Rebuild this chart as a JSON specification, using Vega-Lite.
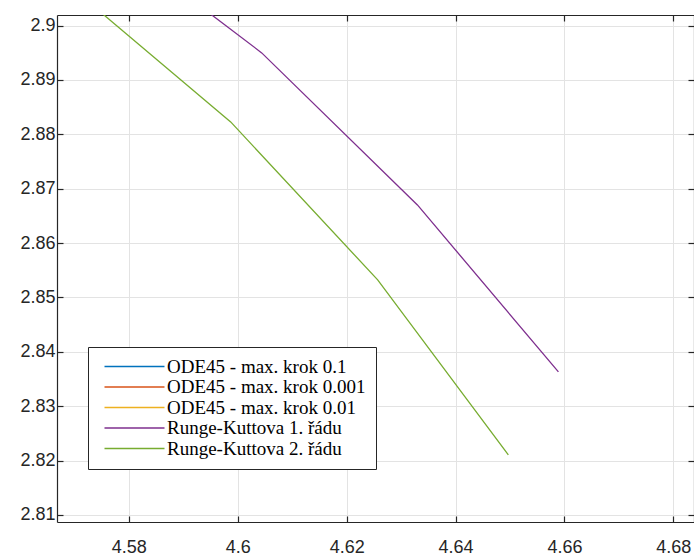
{
  "$schema": "https://vega.github.io/schema/vega-lite/v6.json",
  "width": 637,
  "height": 507,
  "autosize": {"type": "none"},
  "padding": {"left": 57, "top": 15, "right": 0, "bottom": 33},
  "background": "white",
  "config": {
    "view": {"stroke": null},
    "axis": {
      "domainColor": "#262626",
      "tickColor": "#262626",
      "labelColor": "#262626",
      "labelFont": "Liberation Sans",
      "labelFontSize": 18,
      "gridColor": "#e3e3e3",
      "gridWidth": 1,
      "domainWidth": 1.2,
      "tickWidth": 1.2,
      "tickSize": -6,
      "title": null
    }
  },
  "data": {
    "values": [
      {"metoda": "Runge-Kuttova 1. řádu", "x": 4.5744, "y": 2.9178},
      {"metoda": "Runge-Kuttova 1. řádu", "x": 4.6044, "y": 2.89498},
      {"metoda": "Runge-Kuttova 1. řádu", "x": 4.6330, "y": 2.86702},
      {"metoda": "Runge-Kuttova 1. řádu", "x": 4.6589, "y": 2.83631},
      {"metoda": "Runge-Kuttova 2. řádu", "x": 4.5717, "y": 2.9051},
      {"metoda": "Runge-Kuttova 2. řádu", "x": 4.5987, "y": 2.88229},
      {"metoda": "Runge-Kuttova 2. řádu", "x": 4.6257, "y": 2.85323},
      {"metoda": "Runge-Kuttova 2. řádu", "x": 4.6497, "y": 2.82104}
    ]
  },
  "encoding": {
    "x": {"field": "x", "type": "quantitative", "scale": {"domain": [4.5668, 4.6838], "nice": false, "zero": false}},
    "y": {"field": "y", "type": "quantitative", "scale": {"domain": [2.8087, 2.90195], "nice": false, "zero": false}}
  },
  "layer": [
    {
      "mark": {"type": "line", "clip": true, "strokeWidth": 1.3},
      "encoding": {
        "x": {"field": "x", "type": "quantitative", "axis": {"orient": "bottom", "values": [4.58, 4.6, 4.62, 4.64, 4.66, 4.68], "format": ".2~f", "labelPadding": 22, "grid": true}},
        "y": {"field": "y", "type": "quantitative", "axis": {"orient": "left", "values": [2.81, 2.82, 2.83, 2.84, 2.85, 2.86, 2.87, 2.88, 2.89, 2.9], "format": ".2~f", "labelPadding": 8, "grid": true}},
        "color": {
          "field": "metoda",
          "type": "nominal",
          "scale": {
            "domain": ["ODE45 - max. krok 0.1", "ODE45 - max. krok 0.001", "ODE45 - max. krok 0.01", "Runge-Kuttova 1. řádu", "Runge-Kuttova 2. řádu"],
            "range": ["#0072BD", "#D95319", "#EDB120", "#7E2F8E", "#77AC30"]
          },
          "legend": {
            "title": null,
            "orient": "none",
            "legendX": 31,
            "legendY": 332,
            "symbolType": "M-6,0H6",
            "symbolSize": 100,
            "symbolStrokeWidth": 1.5,
            "symbolOffset": 27,
            "labelFont": "Liberation Serif",
            "labelFontSize": 19,
            "labelLimit": 400,
            "labelColor": "#000000",
            "labelOffset": 23,
            "rowPadding": 0.5,
            "padding": 10,
            "strokeColor": "#262626",
            "fillColor": "white"
          }
        }
      }
    },
    {
      "mark": {"type": "line", "clip": true, "opacity": 0},
      "encoding": {
        "x": {"field": "x", "type": "quantitative", "axis": {"orient": "top", "values": [4.58, 4.6, 4.62, 4.64, 4.66, 4.68], "labels": false, "grid": false}},
        "y": {"field": "y", "type": "quantitative", "axis": {"orient": "right", "values": [2.81, 2.82, 2.83, 2.84, 2.85, 2.86, 2.87, 2.88, 2.89, 2.9], "labels": false, "grid": false}},
        "detail": {"field": "metoda"}
      }
    }
  ],
  "resolve": {"axis": {"x": "independent", "y": "independent"}}
}
